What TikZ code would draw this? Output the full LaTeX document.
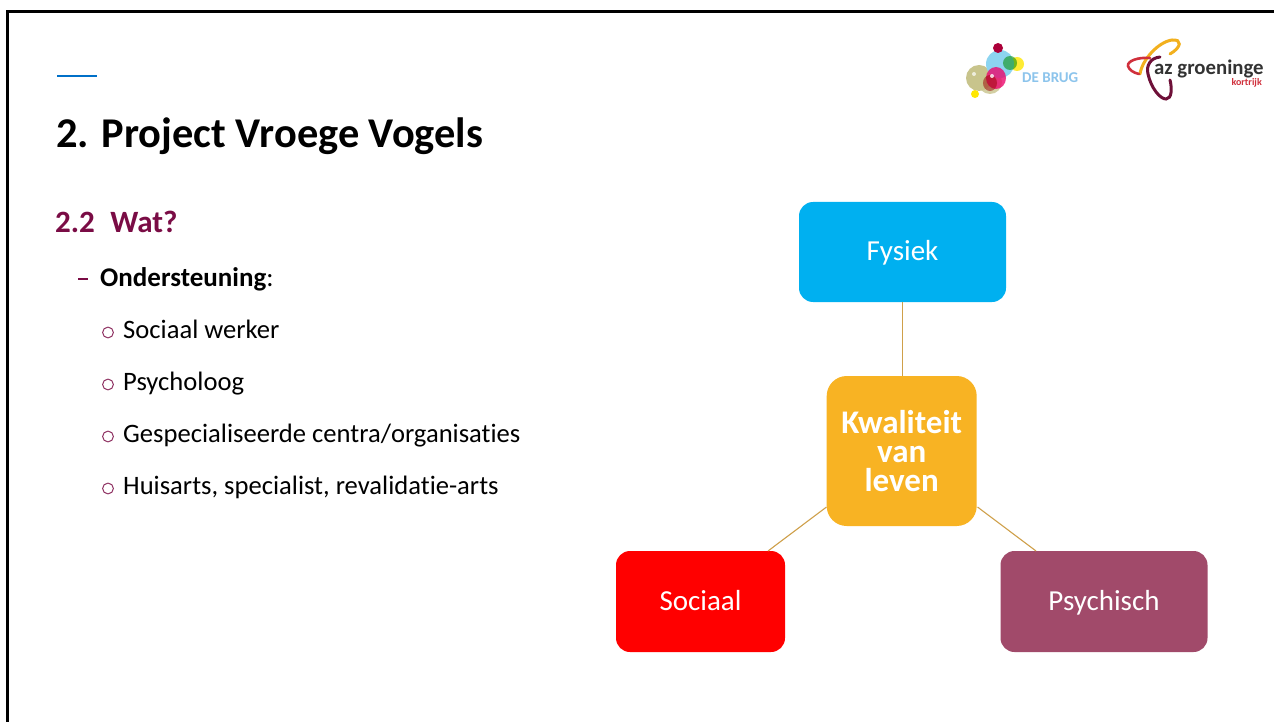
\documentclass[tikz,border=0pt]{standalone}
\usepackage{fontspec}
\setmainfont[Ligatures=NoCommon]{Carlito}
\definecolor{plum}{HTML}{7A0C45}
\definecolor{fys}{HTML}{00B0F0}
\definecolor{kwal}{HTML}{F8B323}
\definecolor{psy}{HTML}{A14A6A}
\definecolor{conn}{HTML}{CFA04A}
\definecolor{rule}{HTML}{0070C8}
\definecolor{brugtxt}{HTML}{8CC4EC}
\definecolor{azred}{HTML}{D0303C}
\definecolor{azplum}{HTML}{6E1038}
\definecolor{azyel}{HTML}{F2B01E}
\definecolor{brugol}{HTML}{C8C48C}
\definecolor{brugbl}{HTML}{8CD4F0}
\tikzset{
 box/.style={rounded corners=14pt,text=white,align=center,inner sep=0pt},
 sidebox/.style={box,text height=21pt,text depth=4pt,font=\fontsize{29}{29}\selectfont},
 link/.style={conn,line width=1.1pt},
 item/.style={anchor=base west,inner sep=0pt,font=\fontsize{26.6}{26.6}\selectfont},
 logoarc/.style={line width=3pt,line cap=round}
}
\begin{document}
\begin{tikzpicture}[x=1pt,y=-1pt]
\useasboundingbox (0,0) rectangle (1274,722);
\fill[white] (0,0) rectangle (1274,722);
\draw[line width=2.4pt,black] (7.5,722) -- (7.5,11.5) -- (1274,11.5);
\draw[rule,line width=2pt] (57,76) -- (97,76);
\node[anchor=base west,inner sep=0pt,font=\fontsize{42.4}{42.4}\selectfont\bfseries] (title) at (56,147.5) {2. Project Vroege Vogels};
\node[anchor=base west,inner sep=0pt,text=plum,font=\fontsize{31}{31}\selectfont\bfseries] (sub) at (55,233) {2.2\hspace{0.5em}Wat?};
\draw[plum,line width=1.2pt] (78,279) -- (88,279);
\node[item,font=\fontsize{27}{27}\selectfont] (o) at (100,286.5) {\textbf{Ondersteuning}:};
\foreach \y/\t in {338.5/Sociaal werker,390.5/Psycholoog,442.5/Gespecialiseerde centra\slash organisaties,494.5/Huisarts{,} specialist{,} revalidatie-arts}{
  \draw[plum!85,line width=1pt] (108,\y-6) circle (5.4);
  \node[item] at (123,\y) {\t};
}
% diagram
\node[box,sidebox,fill=fys,minimum width=207pt,minimum height=100pt] (f) at (902.5,252) {Fysiek};
\node[box,sidebox,fill=red,minimum width=169pt,minimum height=101pt] (s) at (700.5,601.5) {Sociaal};
\node[box,sidebox,fill=psy,minimum width=207pt,minimum height=101pt] (p) at (1104,601.5) {Psychisch};
\node[box,fill=kwal,rounded corners=20pt,minimum width=150pt,minimum height=150pt,font=\fontsize{33}{29}\selectfont\bfseries] (k) at (901.7,451) {Kwaliteit\\van\\leven};
\coordinate (ka) at (826.5,507);
\coordinate (kb) at (977.5,507);
\coordinate (sa) at (768,551);
\coordinate (pa) at (1036,551);
\draw[link] (f.south) -- (f.south |- k.north);
\draw[link] (ka) -- (sa);
\draw[link] (kb) -- (pa);
% logo De Brug
\fill[yellow!90!orange,opacity=.8] (1017,64) circle (7);
\fill[brugol] (979,78) circle (13);
\fill[brugol,opacity=.8] (990,82) circle (12);
\fill[brugbl] (1000,64) circle (14);
\fill[green!55!black,opacity=.55] (1010,63) circle (7);
\fill[purple!90!black] (998,48) circle (5);
\fill[yellow!90!orange] (975,94) circle (4);
\fill[magenta!70!red,opacity=.8] (996,78) ellipse (10 and 11);
\fill[red!60!black,opacity=.5] (990,83) ellipse (7 and 8);
\fill[white,opacity=.8] (992,76) circle (2);
\fill[white,opacity=.7] (974,74) circle (2);
\node[anchor=base west,inner sep=0pt,text=brugtxt,font=\fontsize{15}{15}\selectfont\bfseries] (db) at (1022,82.5) {DE BRUG};
% logo AZ Groeninge
\draw[logoarc,azyel] (1140,74) .. controls (1142,60) and (1158,42) .. (1172,40) .. controls (1182,39) and (1182,47) .. (1170,54);
\draw[logoarc,azred,line width=2.6pt] (1150,58) .. controls (1138,57) and (1127,61) .. (1128,66) .. controls (1129,70) and (1134,73) .. (1139,74);
\draw[logoarc,azplum] (1160,57) .. controls (1150,58) and (1146,66) .. (1148,74) .. controls (1151,88) and (1160,99) .. (1166,99) .. controls (1172,99) and (1172,88) .. (1170,80);
\node[anchor=base west,inner sep=0pt,text=black!80,font=\fontsize{20.8}{20.8}\selectfont\bfseries] (az) at (1154,75) {az groeninge};
\node[anchor=base east,inner sep=0pt,text=azred,font=\fontsize{10}{10}\selectfont\bfseries] (k2) at (1262,86) {kortrijk};
\end{tikzpicture}
\end{document}
